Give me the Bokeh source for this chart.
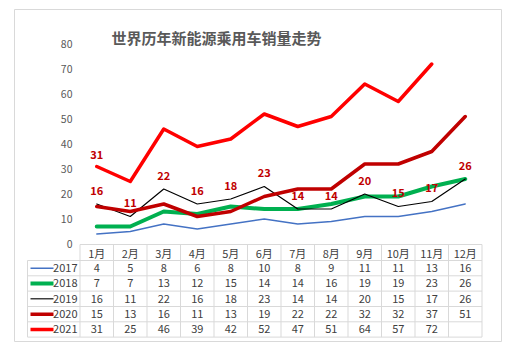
from bokeh.plotting import figure
from bokeh.models import Range1d
from bokeh.core.properties import value
from bokeh.embed import file_html
from bokeh.resources import INLINE

title = "世界历年新能源乘用车销量走势"
months = ["1月", "2月", "3月", "4月", "5月", "6月", "7月", "8月", "9月", "10月", "11月", "12月"]
years = ["2017", "2018", "2019", "2020", "2021"]
s2017 = [4, 5, 8, 6, 8, 10, 8, 9, 11, 11, 13, 16]
s2018 = [7, 7, 13, 12, 15, 14, 14, 16, 19, 19, 23, 26]
s2019 = [16, 11, 22, 16, 18, 23, 14, 14, 20, 15, 17, 26]
s2020 = [15, 13, 16, 11, 13, 19, 22, 22, 32, 32, 37, 51]
s2021 = [31, 25, 46, 39, 42, 52, 47, 51, 64, 57, 72]
y_ticks = [0, 10, 20, 30, 40, 50, 60, 70, 80]
series = [s2017, s2018, s2019, s2020, s2021]

colors = ["#4472C4", "#00B050", "#000000", "#C00000", "#FF0000"]
widths = [1.3, 4, 1.2, 3.5, 3.5]
key_colors = ["#4472C4", "#00B050", "#404040", "#C00000", "#FF0000"]

W, H = 512, 353
X0, CW = 79.5, 33.5      # table first column left, column width (px)
Y0, S = 243.5, 2.5       # zero line (px), px per unit

def fx(px):
    return (px - X0) / CW - 0.5

def fy(py):
    return (Y0 - py) / S

p = figure(width=W, height=H, output_backend="svg", toolbar_location=None,
           x_range=Range1d(fx(0), fx(W)), y_range=Range1d(fy(H), fy(0)),
           min_border=0)
p.axis.visible = False
p.grid.visible = False
p.outline_line_color = None
p.background_fill_color = "white"
p.border_fill_color = "white"

CJK = value("Noto Sans CJK SC")
TXT = "#404040"

# outer frame
p.quad(left=[fx(14)], right=[fx(501)], top=[fy(9)], bottom=[fy(341)],
       fill_color=None, line_color="#d9d9d9", line_width=1)

# title
p.text(x=[fx(111)], y=[fy(37)], text=[title], text_font=CJK, text_font_size="15px",
       text_font_style="bold", text_color="#595959", text_align="left", text_baseline="middle")

# y tick labels
p.text(x=[fx(72)] * len(y_ticks), y=y_ticks, text=[str(t) for t in y_ticks], text_font=CJK,
       text_font_size="10.5px", text_color="#595959", text_align="right", text_baseline="middle")

xs = list(range(12))

# series lines
for s, c, w in zip(series, colors, widths):
    p.line(xs[:len(s)], s, line_color=c, line_width=w, line_join="round", line_cap="round")

# data labels (2019 series + first 2021 value)
LBL = "#C00000"
p.text(x=xs, y=s2019, text=[str(v) for v in s2019], text_font=CJK, text_font_size="11px",
       text_font_style="bold", text_color=LBL, text_align="center", text_baseline="middle",
       y_offset=-14)
p.text(x=[xs[0]], y=[s2021[0]], text=[str(s2021[0])], text_font=CJK, text_font_size="11px",
       text_font_style="bold", text_color=LBL, text_align="center", text_baseline="middle",
       y_offset=-12)

# data table
GRID = "#d9d9d9"
row_lines = [244, 260, 275.3, 290.6, 306, 321.3, 336.6]
XR = X0 + 12 * CW
LX = 27
# horizontal lines
hx0 = [fx(X0)] + [fx(LX)] * (len(row_lines) - 1)
p.segment(x0=hx0, x1=[fx(XR)] * len(row_lines), y0=[fy(r) for r in row_lines],
          y1=[fy(r) for r in row_lines], line_color=GRID, line_width=1)
# vertical lines
vx = [X0 + k * CW for k in range(13)]
p.segment(x0=[fx(v) for v in vx], x1=[fx(v) for v in vx], y0=[fy(244)] * 13,
          y1=[fy(336.6)] * 13, line_color=GRID, line_width=1)
p.segment(x0=[fx(LX)], x1=[fx(LX)], y0=[fy(260)], y1=[fy(336.6)], line_color=GRID, line_width=1)

# header
hdr_y = (row_lines[0] + row_lines[1]) / 2
p.text(x=xs, y=[fy(hdr_y)] * 12, text=months, text_font=CJK, text_font_size="11px",
       text_color=TXT, text_align="center", text_baseline="middle")

for r, (yr, s) in enumerate(zip(years, series)):
    cy = fy((row_lines[r + 1] + row_lines[r + 2]) / 2)
    p.text(x=xs[:len(s)], y=[cy] * len(s), text=[str(v) for v in s], text_font=CJK,
           text_font_size="11px", text_color=TXT, text_align="center", text_baseline="middle")
    p.segment(x0=[fx(30)], x1=[fx(53)], y0=[cy], y1=[cy], line_color=key_colors[r],
              line_width=max(widths[r], 1.5))
    p.text(x=[fx(77)], y=[cy], text=[yr], text_font=CJK, text_font_size="11px",
           text_color=TXT, text_align="right", text_baseline="middle")

open("out.html", "w").write(file_html(p, INLINE))
